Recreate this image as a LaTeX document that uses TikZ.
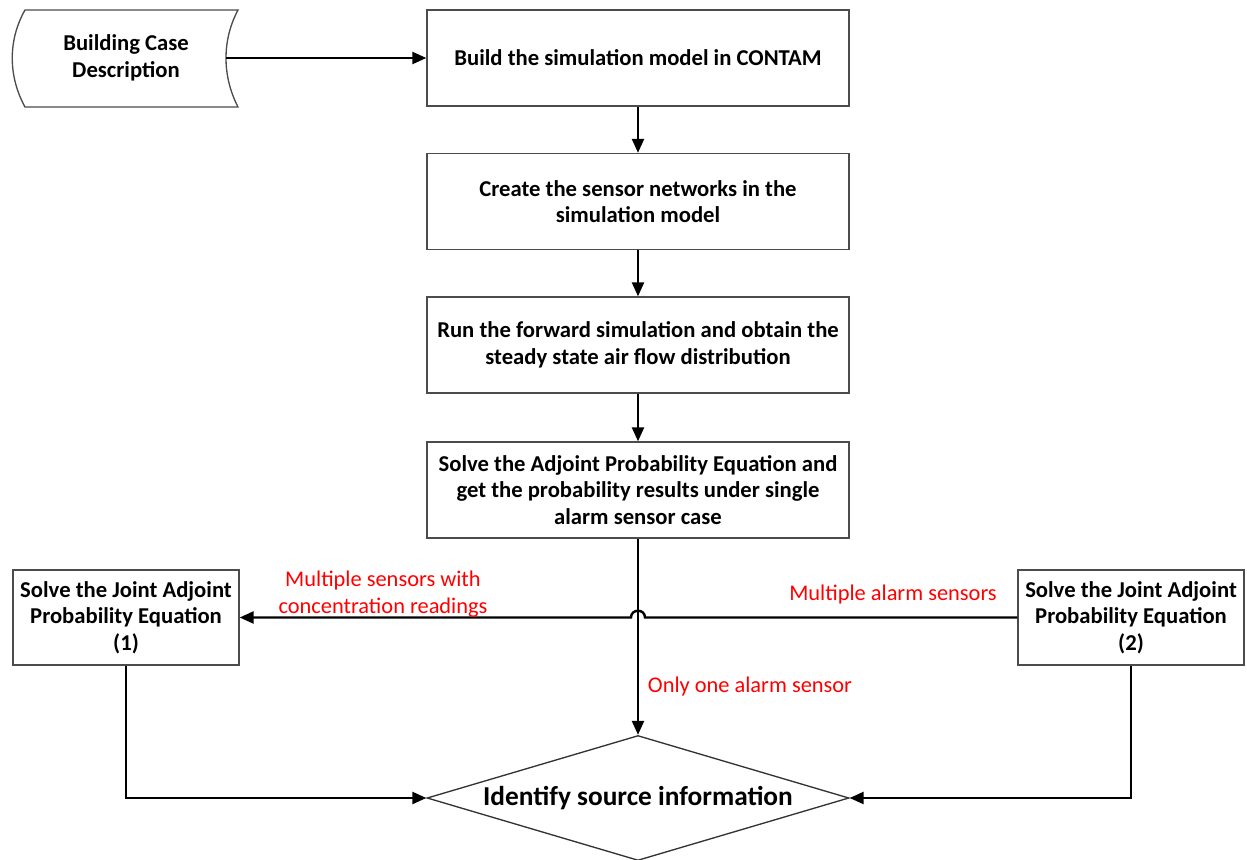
\documentclass[tikz,border=0pt]{standalone}
\usepackage{fontspec}
\setmainfont{Carlito}
\usetikzlibrary{arrows.meta,shapes.geometric,calc}
\tikzset{
  procbox/.style={draw=black!70, line width=1pt, minimum width=316.5pt, minimum height=72pt,
    align=center, inner sep=2pt, font=\bfseries\fontsize{17}{20}\selectfont},
  sidebox/.style={procbox, minimum width=169.5pt, minimum height=71.25pt},
  flow/.style={line width=1.8pt, -{Triangle[length=10.5pt,width=9pt]}},
  redlabel/.style={text=red, font=\fontsize{16.8}{20}\selectfont, align=center}
}
\begin{document}
\begin{tikzpicture}[x=0.75pt,y=-0.75pt]
\useasboundingbox (0,0) rectangle (1247,860);
% input data
\node[align=center, font=\bfseries\fontsize{17}{20}\selectfont] (desc) at (126,58) {Building Case\\Description};
\draw[draw=black!70, line width=1pt] (25,10) -- (238,10)
  .. controls (222,40) and (222,76) .. (238,107) -- (25,107)
  .. controls (8,76) and (8,40) .. cycle;
\coordinate (descout) at (226,58);
% main steps
\node[procbox] (build) at (638,58) {Build the simulation model in CONTAM};
\node[procbox] (create) at (638,201.5) {Create the sensor networks in the\\simulation model};
\node[procbox] (forward) at (638,345) {Run the forward simulation and obtain the\\steady state air flow distribution};
\node[procbox] (adjoint) at (638,490) {Solve the Adjoint Probability Equation and\\get the probability results under single\\alarm sensor case};
\node[sidebox] (joint1) at (126,617.5) {Solve the Joint Adjoint\\Probability Equation\\(1)};
\node[sidebox] (joint2) at (1131,617.5) {Solve the Joint Adjoint\\Probability Equation\\(2)};
\node[draw=black!80, line width=1pt, shape=diamond, aspect=3.376, minimum width=316.5pt,
  minimum height=93.75pt, inner sep=0pt, font=\bfseries\fontsize{20.5}{24}\selectfont] (ident) at (638,798) {Identify source information};
% connectors
\draw[flow] (descout) -- (build.west);
\draw[flow] (build) -- (create);
\draw[flow] (create) -- (forward);
\draw[flow] (forward) -- (adjoint);
\coordinate (hop) at (638,617.5);
\draw[flow] (joint2.west) -- ($(hop)+(7,0)$)
  .. controls ($(hop)+(7,-9)$) and ($(hop)+(-7,-9)$) .. ($(hop)+(-7,0)$) -- (joint1.east);
\draw[flow] (adjoint) -- (ident);
\draw[flow] (joint1.south) |- (ident.west);
\draw[flow] (joint2.south) |- (ident.east);
% labels
\node[redlabel] (lmulti) at (383,594) {Multiple sensors with\\concentration readings};
\node[redlabel] (lalarm) at (893,595) {Multiple alarm sensors};
\node[redlabel] (lone) at (750,687) {Only one alarm sensor};
\end{tikzpicture}
\end{document}
